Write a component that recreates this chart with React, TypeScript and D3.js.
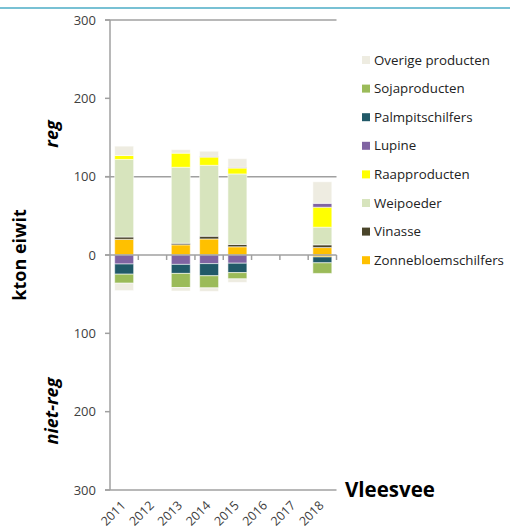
import React from "react";
import * as d3 from "d3";

// Years on the x axis
const years = ["2011", "2012", "2013", "2014", "2015", "2016", "2017", "2018"];

// Series in stacking order (bottom to top), legend lists them reversed
const seriesNames = [
  "Zonnebloemschilfers",
  "Vinasse",
  "Weipoeder",
  "Raapproducten",
  "Lupine",
  "Palmpitschilfers",
  "Sojaproducten",
  "Overige producten",
];
const seriesColors = [
  "#FFC000",
  "#4A452A",
  "#D7E4BD",
  "#FFFF00",
  "#8064A2",
  "#215968",
  "#9BBB59",
  "#EEECE1",
];

// Regulated protein (kton eiwit), drawn above zero
const regZonnebloem = [20, 0, 13, 20.5, 10.5, 0, 0, 9.5];
const regVinasse = [3, 0, 2, 3.5, 3, 0, 0, 3.5];
const regWeipoeder = [99, 0, 97, 90.5, 90, 0, 0, 22.5];
const regRaap = [5, 0, 18, 10.5, 7.5, 0, 0, 25.5];
const regLupine = [0, 0, 0, 1, 1, 0, 0, 5];
const regPalmpit = [0, 0, 0, 0, 0, 0, 0, 0];
const regSoja = [0, 0, 0, 0, 0, 0, 0, 0];
const regOverige = [12, 0, 4.5, 6.5, 11, 0, 0, 27.5];

// Non-regulated protein (kton eiwit), drawn below zero
const nietZonnebloem = [0, 0, 0, 0, 0, 0, 0, 2.5];
const nietVinasse = [0, 0, 0, 0, 0, 0, 0, 0];
const nietWeipoeder = [0, 0, 0, 0, 0, 0, 0, 0];
const nietRaap = [0, 0, 0, 0, 0, 0, 0, 0];
const nietLupine = [11.5, 0, 12, 11, 10.5, 0, 0, 0];
const nietPalmpit = [13, 0, 11.5, 15.5, 12, 0, 0, 7.5];
const nietSoja = [11.5, 0, 18, 15.5, 8, 0, 0, 13.5];
const nietOverige = [9.5, 0, 4.5, 4.5, 4.5, 0, 0, 0];

const yTicks = [300, 200, 100, 0, -100, -200, -300];

const regSeries = [regZonnebloem, regVinasse, regWeipoeder, regRaap, regLupine, regPalmpit, regSoja, regOverige];
const nietSeries = [nietZonnebloem, nietVinasse, nietWeipoeder, nietRaap, nietLupine, nietPalmpit, nietSoja, nietOverige];

const FONT = "'Open Sans', sans-serif";

export default function App() {
  const width = 510;
  const height = 528;
  const plotLeft = 110;
  const plotRight = 336.5;

  const x = d3.scaleBand<string>().domain(years).range([plotLeft, plotRight]).padding(0);
  const y = d3.scaleLinear().domain([-300, 300]).range([490, 20]);
  const barW = x.bandwidth() * 0.67;

  // Table rows: one per year, positive and negative keyed per series
  const rows = years.map((yr, i) => {
    const r: Record<string, number | string> = { year: yr };
    seriesNames.forEach((s, k) => {
      r["reg_" + s] = regSeries[k][i];
      r["niet_" + s] = -nietSeries[k][i];
    });
    return r;
  });
  const stackReg = d3.stack<any>().keys(seriesNames.map((s) => "reg_" + s))(rows);
  const stackNiet = d3
    .stack<any>()
    .keys(seriesNames.map((s) => "niet_" + s))
    .offset(d3.stackOffsetDiverging)(rows);

  const grid = "#A0A0A0";
  const legendY0 = 60;
  const legendStep = 28.6;

  const renderStack = (stacks: any[], prefix: string) =>
    stacks.map((layer, k) => (
      <g key={prefix + k} fill={seriesColors[k]}>
        {layer.map((d: any, i: number) => {
          const y0 = y(d[0]);
          const y1 = y(d[1]);
          const h = Math.abs(y1 - y0);
          if (h < 0.01) return null;
          return (
            <rect
              key={i}
              x={(x(years[i]) as number) + (x.bandwidth() - barW) / 2}
              y={Math.min(y0, y1)}
              width={barW}
              height={h}
            />
          );
        })}
      </g>
    ));

  return (
    <div style={{ position: "absolute", left: 0, top: 0 }}>
      <svg width={width} height={height} style={{ display: "block", background: "#fff" }}>
        {/* header rule */}
        <line x1={0} x2={width} y1={8} y2={8} stroke="#4BACC6" strokeWidth={1.5} />

        {/* horizontal lines */}
        {[300, 100].map((v) => (
          <line key={v} x1={105} x2={plotRight} y1={y(v)} y2={y(v)} stroke={grid} strokeWidth={1.5} />
        ))}

        {/* bars */}
        <g stroke="rgba(255,255,255,0.55)" strokeWidth={1}>
          {renderStack(stackReg, "r")}
          {renderStack(stackNiet, "n")}
        </g>

        {/* y axis */}
        <line x1={plotLeft} x2={plotLeft} y1={y(300)} y2={y(-300)} stroke={grid} strokeWidth={1.5} />
        {yTicks.map((v) => (
          <g key={v}>
            <line x1={105} x2={plotLeft} y1={y(v)} y2={y(v)} stroke={grid} strokeWidth={1.5} />
            <text
              x={96}
              y={y(v)}
              dy="0.35em"
              textAnchor="end"
              fontFamily={FONT}
              fontSize={13}
              fill="#404040"
            >
              {Math.abs(v)}
            </text>
          </g>
        ))}

        {/* zero axis with category ticks */}
        <line x1={105} x2={plotRight} y1={y(0)} y2={y(0)} stroke={grid} strokeWidth={1.5} />
        {years.map((yr) => (
          <line
            key={"t" + yr}
            x1={(x(yr) as number) + x.bandwidth()}
            x2={(x(yr) as number) + x.bandwidth()}
            y1={y(0)}
            y2={y(0) + 5}
            stroke={grid}
            strokeWidth={1.5}
          />
        ))}

        {/* bottom axis */}
        <line x1={105} x2={plotRight} y1={y(-300)} y2={y(-300)} stroke={grid} strokeWidth={1.5} />
        {years.map((yr) => {
          const cx = (x(yr) as number) + x.bandwidth() / 2 - 3;
          const ty = 501;
          return (
            <text
              key={"l" + yr}
              x={cx}
              y={ty}
              transform={`rotate(-45, ${cx}, ${ty})`}
              textAnchor="end"
              dy="0.6em"
              fontFamily={FONT}
              fontSize={12.5}
              fill="#404040"
            >
              {yr}
            </text>
          );
        })}

        {/* axis titles */}
        <text
          transform={`translate(26, ${y(0)}) rotate(-90)`}
          textAnchor="middle"
          fontFamily={FONT}
          fontSize={18}
          fontWeight="bold"
          fill="#000"
        >
          kton eiwit
        </text>
        <text
          transform={`translate(58, 134) rotate(-90)`}
          textAnchor="middle"
          fontFamily={FONT}
          fontSize={18}
          fontWeight="bold"
          fontStyle="italic"
          fill="#000"
        >
          reg
        </text>
        <text
          transform={`translate(58, 411) rotate(-90)`}
          textAnchor="middle"
          fontFamily={FONT}
          fontSize={18}
          fontWeight="bold"
          fontStyle="italic"
          fill="#000"
        >
          niet-reg
        </text>
        <text x={345} y={497} fontFamily={FONT} fontSize={20.5} fontWeight="bold" fill="#000">
          Vleesvee
        </text>

        {/* legend */}
        {seriesNames
          .slice()
          .reverse()
          .map((name, j) => {
            const k = seriesNames.length - 1 - j;
            const cy = legendY0 + j * legendStep;
            return (
              <g key={name}>
                <rect x={362} y={cy - 4} width={8} height={8} fill={seriesColors[k]} />
                <text x={374} y={cy} dy="0.35em" fontFamily={FONT} fontSize={13.3} fill="#222">
                  {name}
                </text>
              </g>
            );
          })}
      </svg>
    </div>
  );
}
